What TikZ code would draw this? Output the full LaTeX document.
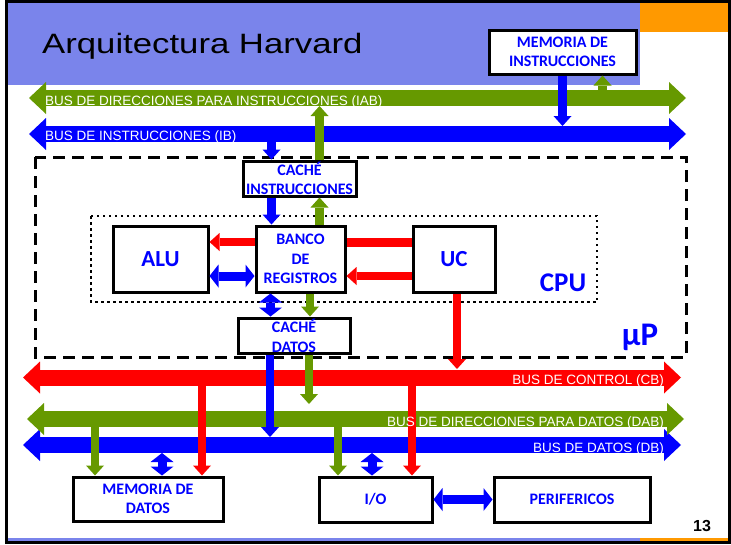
\documentclass[tikz,border=0pt]{standalone}
\usepackage{fontspec}
\usepackage{tikz}
\usetikzlibrary{arrows.meta,calc}
\newfontfamily\titlefont[FakeStretch=1.24]{Liberation Sans}
\newfontfamily\busfont{Liberation Sans}
\newfontfamily\boxfont{Carlito}
\definecolor{ink}{HTML}{0000FF}
\definecolor{busblue}{HTML}{0000FF}
\definecolor{busred}{HTML}{FF0000}
\definecolor{busgreen}{HTML}{669900}
\definecolor{banner}{HTML}{7A84EB}
\definecolor{corner}{HTML}{FF9900}

\begin{document}
\begin{tikzpicture}[x=1pt,y=-1pt,
  bus/.style={draw=#1,line width=16pt,arrows={Triangle[length=17pt,width=32pt,line width=0pt]-Triangle[length=17pt,width=32pt,line width=0pt]}},
  flecha/.style={draw=#1,line width=8.5pt,arrows={-Triangle[length=10pt,width=18pt,line width=0pt]}},
  dflecha/.style={draw=#1,line width=9pt,arrows={Triangle[length=9pt,width=23pt,line width=0pt]-Triangle[length=9pt,width=23pt,line width=0pt]}},
  caja/.style={draw=black,line width=3pt,fill=white,inner sep=0pt,align=center,text=ink,font=\boxfont\bfseries\fontsize{16}{18.5}\selectfont},
  buslabel/.style={text=white,inner sep=0pt,font=\busfont\fontsize{13.5}{16}\selectfont}]
  \useasboundingbox (0,0) rectangle (731,544);
  \fill[banner] (7,3) rectangle (640,85);
  \fill[corner] (640,3) rectangle (728,32);
  \fill[banner] (7,537.5) rectangle (640,541);
  \fill[corner] (640,537.5) rectangle (728,541);
  \draw[line width=3pt] (6,1.5) rectangle (729.5,542.5);
  \node[anchor=base west,inner sep=0pt,font=\titlefont\fontsize{28}{32}\selectfont] (titulo) at (42,53) {Arquitectura Harvard};

  \draw[line width=3pt,dash pattern=on 12pt off 7pt] (35,157) rectangle (686,357);
  \draw[line width=2.5pt,dash pattern=on 2.5pt off 3.5pt] (91,216) rectangle (597,302);

  \coordinate (iabL) at (29,98);   \coordinate (iabR) at (686,98);  \coordinate (iabB) at (0,106);
  \coordinate (ibL) at (29,134);   \coordinate (ibR) at (686,134);  \coordinate (ibT) at (0,126);
  \coordinate (cbL) at (23,377.5); \coordinate (cbR) at (681,377.5); \coordinate (cbT) at (0,369);
  \coordinate (dabL) at (27,419);  \coordinate (dabR) at (684,419); \coordinate (dabT) at (0,411);
  \coordinate (dbL) at (23,445);   \coordinate (dbR) at (681,445);  \coordinate (dbT) at (0,437);
  \coordinate (dbB) at (0,453);
  \draw[bus=busgreen] (iabL) -- (iabR);
  \draw[bus=busblue] (ibL) -- (ibR);
  \draw[bus=busred] (cbL) -- (cbR);
  \draw[bus=busblue] (dbL) -- (dbR);
  \draw[bus=busgreen] (dabL) -- (dabR);

  \node[caja,minimum width=147pt,minimum height=44pt] (mi) at (562.5,52) {MEMORIA DE\\INSTRUCCIONES};
  \node[caja,minimum width=113pt,minimum height=35pt] (ci) at (299.5,178.5) {CACHÉ\\INSTRUCCIONES};
  \node[caja,minimum width=89pt,minimum height=66pt] (br) at (300.5,259) {BANCO\\[1pt]DE\\[1pt]REGISTROS};
  \node[caja,minimum width=95pt,minimum height=66pt,font=\boxfont\bfseries\fontsize{23}{26}\selectfont] (alu) at (160.5,259) {ALU};
  \node[caja,minimum width=82pt,minimum height=66pt,font=\boxfont\bfseries\fontsize{23}{26}\selectfont] (uc) at (454,259) {UC};
  \node[caja,minimum width=112pt,minimum height=35pt] (cd) at (294,335.5) {CACHÉ\\[1.5pt]DATOS};
  \node[caja,minimum width=150pt,minimum height=44pt] (md) at (148,499) {MEMORIA DE\\DATOS};
  \node[caja,minimum width=113pt,minimum height=45pt] (io) at (375.5,499.5) {I/O};
  \node[caja,minimum width=156pt,minimum height=45pt] (pf) at (572,499.5) {PERIFERICOS};
  \node[text=ink,inner sep=0pt,font=\boxfont\bfseries\fontsize{27}{30}\selectfont] (cpu) at (563,283) {CPU};
  \node[text=ink,inner sep=0pt,font=\boxfont\bfseries\fontsize{33}{36}\selectfont] (up) at (640,337) {µP};

  \draw[flecha=busblue] (mi.south) -- (mi.south |- ibT);
  \draw[flecha=busgreen] ([xshift=40pt]mi.south |- iabL) -- ([xshift=40pt]mi.south);
  \draw[flecha=busblue] ([xshift=-28pt]ci.north |- ibL) -- ([xshift=-28pt]ci.north);
  \draw[flecha=busgreen] ([xshift=20pt]ci.north) -- ([xshift=20pt]ci.north |- iabB);
  \draw[flecha=busblue] ([xshift=-28pt]ci.south) -- ([xshift=-28pt]ci.south |- br.north);
  \draw[flecha=busgreen] ([xshift=20pt]ci.south |- br.north) -- ([xshift=20pt]ci.south);
  \draw[busred,line width=9pt] ([yshift=17pt]uc.west) -- ([yshift=17pt]br.east);
  \draw[flecha=busred] ([yshift=17pt]br.west) -- ([yshift=17pt]alu.east);
  \draw[flecha=busred] ([yshift=-17pt]uc.west) -- ([yshift=-17pt]br.east);
  \draw[dflecha=busblue] ([yshift=-17pt]alu.east) -- ([yshift=-17pt]br.west);
  \draw[dflecha=busblue] ([xshift=-30pt]br.south) -- ([xshift=-30pt]br.south |- cd.north);
  \draw[flecha=busgreen] ([xshift=9.5pt]br.south) -- ([xshift=9.5pt]br.south |- cd.north);
  \draw[flecha=busblue] ([xshift=-24pt]cd.south) -- ([xshift=-24pt]cd.south |- dbT);
  \draw[flecha=busgreen] ([xshift=15pt]cd.south) -- ([xshift=15pt,yshift=7pt]cd.south |- dabT);
  \draw[flecha=busred] ([xshift=3pt]uc.south) -- ([xshift=3pt]uc.south |- cbT);
  \draw[flecha=busgreen] ([xshift=-53pt]md.north |- dabL) -- ([xshift=-53pt]md.north);
  \draw[dflecha=busblue] ([xshift=14pt]md.north |- dbB) -- ([xshift=14pt]md.north);
  \draw[flecha=busred] ([xshift=54pt]md.north |- cbL) -- ([xshift=54pt]md.north);
  \draw[flecha=busgreen] ([xshift=-37.5pt]io.north |- dabL) -- ([xshift=-37.5pt]io.north);
  \draw[dflecha=busblue] ([xshift=-3.5pt]io.north |- dbB) -- ([xshift=-3.5pt]io.north);
  \draw[flecha=busred] ([xshift=36.5pt]io.north |- cbL) -- ([xshift=36.5pt]io.north);
  \draw[dflecha=busblue] (io.east) -- (pf.west);

  \node[buslabel,anchor=base west] (liab) at (45,105) {BUS DE DIRECCIONES PARA INSTRUCCIONES (IAB)};
  \node[buslabel,anchor=base west] (lib) at (45,140.5) {BUS DE INSTRUCCIONES (IB)};
  \node[buslabel,anchor=base east] (lcb) at (664,384.5) {BUS DE CONTROL (CB)};
  \node[buslabel,anchor=base east] (ldab) at (664,426) {BUS DE DIRECCIONES PARA DATOS (DAB)};
  \node[buslabel,anchor=base east] (ldb) at (664,452) {BUS DE DATOS (DB)};
  \node[inner sep=0pt,font=\busfont\bfseries\fontsize{16}{18}\selectfont] (pag) at (702,526) {13};
\end{tikzpicture}
\end{document}
